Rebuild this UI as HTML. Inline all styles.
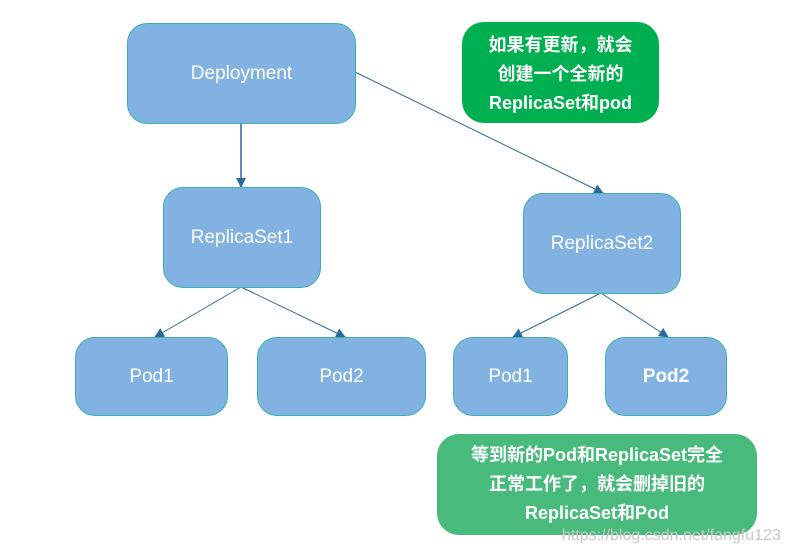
<!DOCTYPE html>
<html><head><meta charset="utf-8"><style>
body{margin:0;background:#fff;width:794px;height:552px;overflow:hidden;position:relative;font-family:"Liberation Sans","Noto Sans CJK SC",sans-serif}
.b{position:absolute;box-sizing:border-box;background:#82b2e1;border:1.5px solid #3bb3b3;border-radius:20px;color:#fff;display:flex;align-items:center;justify-content:center;font-size:19px;text-align:center}
.g{position:absolute;box-sizing:border-box;border-radius:22px;color:#fff;display:flex;align-items:center;justify-content:center;text-align:center;font-size:18px;line-height:29px;font-weight:bold}
svg{position:absolute;left:0;top:0}
</style></head><body>
<svg width="794" height="552">
<defs><marker id="a" markerWidth="10" markerHeight="10" refX="9" refY="5" orient="auto" markerUnits="userSpaceOnUse"><path d="M0,0 L10,5 L0,10 z" fill="#2a6a9e"/></marker></defs>
<g stroke="#2a6a9e" stroke-width="1" fill="none" marker-end="url(#a)">
<line x1="241" y1="123" x2="241" y2="187" stroke-width="1.5"/>
<line x1="355" y1="72" x2="603" y2="193"/>
<line x1="241" y1="287" x2="155" y2="337"/>
<line x1="241" y1="287" x2="345" y2="337"/>
<line x1="601" y1="293" x2="513" y2="337"/>
<line x1="601" y1="293" x2="668" y2="337"/>
</g></svg>
<div class="b" style="left:127px;top:23px;width:229px;height:101px">Deployment</div>
<div class="g" style="left:462px;top:22px;width:197px;height:101px;background:#00af50;padding-top:4px">如果有更新，就会<br>创建一个全新的<br>ReplicaSet和pod</div>
<div class="b" style="left:163px;top:187px;width:158px;height:101px">ReplicaSet1</div>
<div class="b" style="left:523px;top:193px;width:158px;height:101px">ReplicaSet2</div>
<div class="b" style="left:75px;top:337px;width:153px;height:79px">Pod1</div>
<div class="b" style="left:257px;top:337px;width:169px;height:79px">Pod2</div>
<div class="b" style="left:453px;top:337px;width:115px;height:79px">Pod1</div>
<div class="b" style="left:605px;top:337px;width:122px;height:79px;font-weight:bold">Pod2</div>
<div class="g" style="left:437px;top:434px;width:320px;height:101px;background:#48ba7b">等到新的Pod和ReplicaSet完全<br>正常工作了，就会删掉旧的<br>ReplicaSet和Pod</div>
<div style="position:absolute;left:562px;top:527px;font-size:16px;color:#c8c8c8">https://blog.csdn.net/fangfu123</div>
</body></html>
